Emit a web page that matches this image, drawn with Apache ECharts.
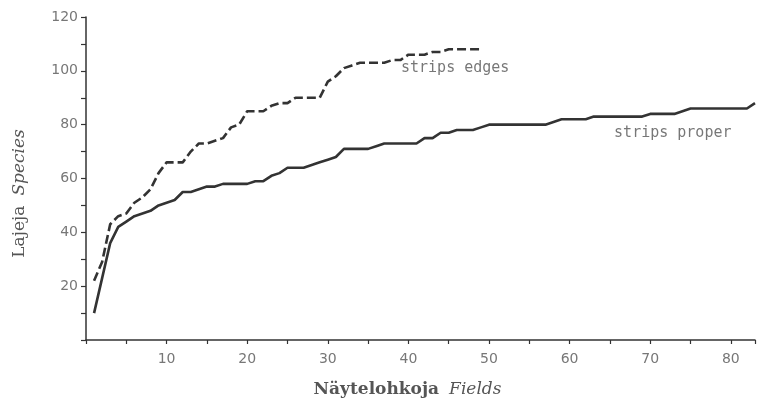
<!DOCTYPE html>
<html>
<head>
<meta charset="utf-8">
<script src="https://cdn.jsdelivr.net/npm/echarts@6/dist/echarts.min.js"></script>
<style>html,body{margin:0;padding:0;background:#fff}#c{width:758px;height:403px}</style>
</head>
<body>
<div id="c"></div>
<script>
// Fields (x) and cumulative species counts
const fieldsProper = [];
for (let i = 1; i <= 83; i++) fieldsProper.push(i);
const speciesProper = [10,23,36,42,44,46,47,48,50,51,52,55,55,56,57,57,58,58,58,58,
  59,59,61,62,64,64,64,65,66,67,68,71,71,71,71,72,73,73,73,73,
  73,75,75,77,77,78,78,78,79,80,80,80,80,80,80,80,80,81,82,82,
  82,82,83,83,83,83,83,83,83,84,84,84,84,85,86,86,86,86,86,86,
  86,86,88];
const fieldsEdges = [];
for (let i = 1; i <= 49; i++) fieldsEdges.push(i);
const speciesEdges = [22,29,43,46,47,51,53,56,62,66,66,66,70,73,73,74,75,79,80,85,
  85,85,87,88,88,90,90,90,90,96,98,101,102,103,103,103,103,104,104,106,
  106,106,107,107,108,108,108,108,108];
const xTickLabels = [10,20,30,40,50,60,70,80];
const yTickLabels = [20,40,60,80,100,120];
const seriesLabels = ['strips edges', 'strips proper'];
const labelAnchors = [[45.8, 101], [72.8, 77]];

const zip = (xs, ys) => xs.map((x, i) => [x, ys[i]]);
const ink = '#333';
const chart = echarts.init(document.getElementById('c'));
chart.setOption({
  backgroundColor: '#fff',
  animation: false,
  grid: {left: 86, right: 0, top: 17, bottom: 62},
  xAxis: {
    type: 'value', min: 0, max: 83, interval: 5,
    axisLine: {show: true, lineStyle: {color: ink, width: 1.5}},
    axisTick: {show: true, length: 4, lineStyle: {color: ink, width: 1.2}},
    splitLine: {show: false},
    axisLabel: {
      color: '#777', fontFamily: 'DejaVu Sans', fontSize: 14, margin: 12,
      formatter: v => xTickLabels.includes(v) ? String(v) : ''
    },
    name: '{a|Näytelohkoja}   {b|Fields}',
    nameLocation: 'middle', nameGap: 41,
    nameTextStyle: {
      padding: [0, 26, 0, 0],
      rich: {
        a: {fontFamily: 'DejaVu Serif', fontSize: 17, color: '#555', fontWeight: 'bold'},
        b: {fontFamily: 'DejaVu Serif', fontSize: 17, color: '#555', fontStyle: 'italic'}
      }
    }
  },
  yAxis: {
    type: 'value', min: 0, max: 120, interval: 10,
    axisLine: {show: true, lineStyle: {color: ink, width: 1.5}},
    axisTick: {show: true, length: 5, lineStyle: {color: ink, width: 1.2}},
    splitLine: {show: false},
    axisLabel: {
      color: '#777', fontFamily: 'DejaVu Sans', fontSize: 14, margin: 8,
      formatter: v => yTickLabels.includes(v) ? String(v) : ''
    },
    name: '{a|Lajeja}   {b|Species}',
    nameLocation: 'middle', nameGap: 58, nameRotate: 90,
    nameTextStyle: {
      padding: [0, 30, 0, 0],
      rich: {
        a: {fontFamily: 'DejaVu Serif', fontSize: 17, color: '#555'},
        b: {fontFamily: 'DejaVu Serif', fontSize: 17, color: '#555', fontStyle: 'italic'}
      }
    }
  },
  series: [
    {
      name: 'strips edges', type: 'line', data: zip(fieldsEdges, speciesEdges),
      showSymbol: false, symbol: 'none',
      lineStyle: {color: ink, width: 2.6, type: [9, 4]}
    },
    {
      name: 'strips proper', type: 'line', data: zip(fieldsProper, speciesProper),
      showSymbol: false, symbol: 'none',
      lineStyle: {color: ink, width: 2.6}
    },
    {
      type: 'scatter', silent: true, symbolSize: 1,
      itemStyle: {color: 'rgba(0,0,0,0)'},
      data: labelAnchors.map((c, i) => ({value: c, name: seriesLabels[i]})),
      label: {
        show: true, position: 'inside', formatter: p => p.name,
        color: '#555', fontFamily: 'DejaVu Sans Mono', fontSize: 15
      }
    }
  ]
});
</script>
</body>
</html>
